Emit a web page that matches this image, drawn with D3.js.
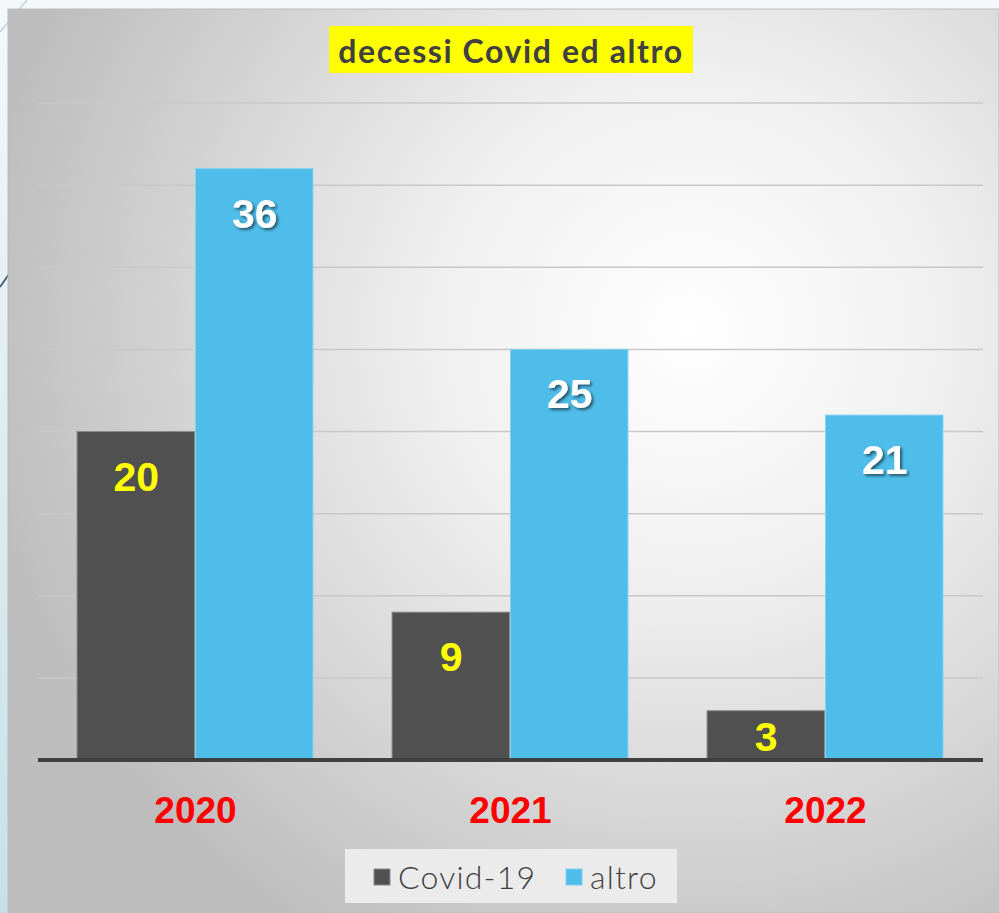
<!DOCTYPE html>
<html>
<head>
<meta charset="utf-8">
<script src="https://cdn.jsdelivr.net/npm/d3@7"></script>
<style>
  body { margin: 0; background: #f2f7f9; }
  svg { display: block; }
</style>
</head>
<body>
<div id="chart"></div>
<script>
// data
const years = ["2020", "2021", "2022"];
const seriesNames = ["Covid-19", "altro"];
const covid = [20, 9, 3];
const altro = [36, 25, 21];
const gridTicks = [0, 5, 10, 15, 20, 25, 30, 35, 40];

const W = 999, H = 913;
const margin = { top: 103, right: 16, bottom: 153, left: 38 },
    width = W - margin.left - margin.right,
    height = H - margin.top - margin.bottom;

const svg = d3.select("#chart")
    .append("svg")
    .attr("width", W)
    .attr("height", H);

const defs = svg.append("defs");
const sideGrad = defs.append("linearGradient").attr("id", "side")
    .attr("x1", 0).attr("y1", 0).attr("x2", 0).attr("y2", 1);
sideGrad.append("stop").attr("offset", "0%").attr("stop-color", "#f4f8fa");
sideGrad.append("stop").attr("offset", "100%").attr("stop-color", "#c7e0e8");

const radial = defs.append("radialGradient").attr("id", "panel")
    .attr("gradientUnits", "userSpaceOnUse")
    .attr("cx", 690).attr("cy", 330).attr("r", 720);
radial.append("stop").attr("offset", "0%").attr("stop-color", "#ffffff");
radial.append("stop").attr("offset", "35%").attr("stop-color", "#f0f0f0");
radial.append("stop").attr("offset", "100%").attr("stop-color", "#bdbdbd");

const shadow = defs.append("filter").attr("id", "shadow")
    .attr("x", "-20%").attr("y", "-20%").attr("width", "150%").attr("height", "150%");
shadow.append("feDropShadow").attr("dx", 2).attr("dy", 2).attr("stdDeviation", 1.5)
    .attr("flood-color", "#000").attr("flood-opacity", 0.55);

// slide background strip
svg.append("rect").attr("width", W).attr("height", H).attr("fill", "url(#side)");
svg.append("line").attr("x1", 27).attr("y1", 0).attr("x2", 0).attr("y2", 32)
    .attr("stroke", "#b9cdd6").attr("stroke-width", 1.2);
svg.append("line").attr("x1", 9).attr("y1", 274).attr("x2", 0).attr("y2", 287)
    .attr("stroke", "#2c4a5c").attr("stroke-width", 1.5);

// chart panel
svg.append("rect")
    .attr("x", 8).attr("y", 9).attr("width", W - 8).attr("height", H - 9)
    .attr("fill", "url(#panel)")
    .attr("stroke", "#bcbcbc").attr("stroke-width", 1);

const g = svg.append("g")
    .attr("transform", `translate(${margin.left},${margin.top})`);

const x0 = d3.scaleBand().domain(years).range([0, 945]).paddingInner(0.248).paddingOuter(0.124);
const x1 = d3.scaleBand().domain(seriesNames).range([0, x0.bandwidth()]);
const y = d3.scaleLinear().domain([0, 40]).range([height, 0]);
const color = d3.scaleOrdinal().domain(seriesNames).range(["#505050", "#4fbde9"]);

// gridlines
g.selectAll(".grid")
    .data(gridTicks.filter(d => d > 0))
    .join("line")
    .attr("x1", 0).attr("x2", 945)
    .attr("y1", d => y(d)).attr("y2", d => y(d))
    .attr("stroke", "#c8c8c8").attr("stroke-width", 1.5);

// bars
const rows = years.map((yr, i) => ({ year: yr, values: [
    { name: "Covid-19", value: covid[i] },
    { name: "altro", value: altro[i] }
]}));

const groups = g.selectAll(".year")
    .data(rows)
    .join("g")
    .attr("transform", d => `translate(${x0(d.year)},0)`);

groups.selectAll("rect")
    .data(d => d.values)
    .join("rect")
    .attr("x", d => x1(d.name))
    .attr("y", d => y(d.value))
    .attr("width", x1.bandwidth() - 1)
    .attr("height", d => height - y(d.value))
    .attr("fill", d => color(d.name))
    .attr("stroke", d => d.name === "altro" ? "#7fd2f2" : "#8a8a8a")
    .attr("stroke-width", 1);

groups.selectAll(".lbl")
    .data(d => d.values)
    .join("text")
    .attr("x", d => x1(d.name) + x1.bandwidth() / 2)
    .attr("y", d => Math.min(y(d.value) + 45, (y(d.value) + height) / 2 + 2))
    .attr("text-anchor", "middle")
    .attr("dominant-baseline", "central")
    .attr("font-family", "Liberation Sans, Arial, sans-serif")
    .attr("font-weight", "bold")
    .attr("font-size", 41)
    .attr("fill", d => d.name === "altro" ? "#ffffff" : "#ffff00")
    .attr("filter", d => d.name === "altro" ? "url(#shadow)" : null)
    .text(d => d.value);

// baseline
g.append("line")
    .attr("x1", 0).attr("x2", 945)
    .attr("y1", height).attr("y2", height)
    .attr("stroke", "#404040").attr("stroke-width", 4);

// year labels
g.selectAll(".yr")
    .data(years)
    .join("text")
    .attr("x", d => x0(d) + x0.bandwidth() / 2)
    .attr("y", height + 50)
    .attr("text-anchor", "middle")
    .attr("dominant-baseline", "central")
    .attr("font-family", "Liberation Sans, Arial, sans-serif")
    .attr("font-weight", "bold")
    .attr("font-size", 37)
    .attr("fill", "#ff0000")
    .text(d => d);

// title
svg.append("rect")
    .attr("x", 329).attr("y", 26).attr("width", 364).attr("height", 47)
    .attr("fill", "#ffff00");
svg.append("text")
    .attr("x", 511).attr("y", 50)
    .attr("text-anchor", "middle")
    .attr("dominant-baseline", "central")
    .attr("font-family", "Lato, sans-serif")
    .attr("font-weight", "bold")
    .attr("font-size", 32)
    .attr("letter-spacing", 1.6)
    .attr("fill", "#404040")
    .text("decessi Covid ed altro");

// legend
svg.append("rect")
    .attr("x", 345).attr("y", 849).attr("width", 332).attr("height", 54)
    .attr("fill", "#ebebeb");
const legendX = [374, 566];
seriesNames.forEach((s, i) => {
    svg.append("rect")
        .attr("x", legendX[i]).attr("y", 869).attr("width", 16).attr("height", 16)
        .attr("fill", color(s))
        .attr("stroke", s === "altro" ? "#7fd2f2" : "#8a8a8a");
    svg.append("text")
        .attr("x", legendX[i] + 24).attr("y", 876)
        .attr("dominant-baseline", "central")
        .attr("font-family", "Lato, sans-serif")
        .attr("font-weight", 300)
        .attr("font-size", 32)
        .attr("letter-spacing", 1.2)
        .attr("fill", "#404040")
        .text(s);
});
</script>
</body>
</html>
